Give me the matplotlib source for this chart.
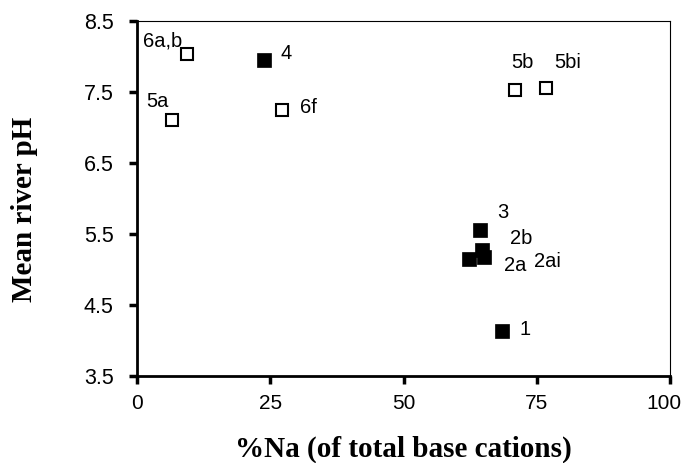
import matplotlib
matplotlib.use("Agg")
import matplotlib.pyplot as plt
import matplotlib.transforms as mtransforms

# open squares
open_labels = ["6a,b", "5a", "6f", "5b", "5bi"]
open_x = [9.4, 6.6, 27.2, 70.9, 76.7]
open_y = [8.03, 7.11, 7.24, 7.53, 7.56]
# filled squares
fill_labels = ["4", "3", "2b", "2ai", "2a", "1"]
fill_x = [23.8, 64.4, 64.7, 65.1, 62.3, 68.5]
fill_y = [7.95, 5.55, 5.28, 5.18, 5.15, 4.13]

xticks = [0, 25, 50, 75, 100]
yticks = [3.5, 4.5, 5.5, 6.5, 7.5, 8.5]

# label offsets in pixels (dx, dy with y up)
offsets = {
    "6a,b": (-25, 13), "5a": (-15, 18), "6f": (26, 3), "5b": (7, 27),
    "5bi": (22, 25), "4": (22, 6), "3": (22, 18), "2b": (39, 11),
    "2ai": (63, -5), "2a": (46, -7), "1": (23, 2),
}

fig = plt.figure(figsize=(6.86, 4.63), dpi=100)
ax = fig.add_axes([0.2, 0.188, 0.777, 0.767])

ax.plot(open_x, open_y, ls="none", marker="s", ms=8, mfc="white",
        mec="black", mew=1.5, zorder=3)
ax.plot(fill_x, fill_y, ls="none", marker="s", ms=9.5, mfc="black",
        mec="black", mew=0.5, zorder=3)

for lab, x, y in list(zip(open_labels, open_x, open_y)) + list(zip(fill_labels, fill_x, fill_y)):
    dx, dy = offsets[lab]
    ax.annotate(lab, (x, y), xytext=(dx, dy), textcoords="offset pixels",
                ha="center", va="center", fontsize=14.5, family="Liberation Sans")

ax.set_xlim(0, 100)
ax.set_ylim(3.5, 8.5)
ax.set_xticks(xticks)
ax.set_yticks(yticks)
ax.set_xticklabels([str(t) for t in xticks], family="Liberation Sans", fontsize=15)
ax.set_yticklabels([str(t) for t in yticks], family="Liberation Sans", fontsize=15.5)
ax.tick_params(direction="out", length=6, width=2.5)
ax.tick_params(axis="x", pad=7)
ax.tick_params(axis="y", pad=11)
ax.tick_params(axis="both", which="both", top=False, right=False)

# shift the last x tick label left so it stays inside the figure
last = ax.get_xticklabels()[-1]
last.set_transform(last.get_transform() + mtransforms.ScaledTranslation(-6 / 100, 0, fig.dpi_scale_trans))

for s in ["left", "bottom"]:
    ax.spines[s].set_linewidth(2)
for s in ["top", "right"]:
    ax.spines[s].set_linewidth(0.8)

ax.set_xlabel("%Na (of total base cations)", family="Liberation Serif",
              fontweight="bold", fontsize=21, va="center")
ax.xaxis.set_label_coords(0.5, -0.208)
ax.set_ylabel("Mean river pH", family="Liberation Serif",
              fontweight="bold", fontsize=21, va="center")
ax.yaxis.set_label_coords(-0.212, 0.47)

fig.savefig("out.png", dpi=100)
